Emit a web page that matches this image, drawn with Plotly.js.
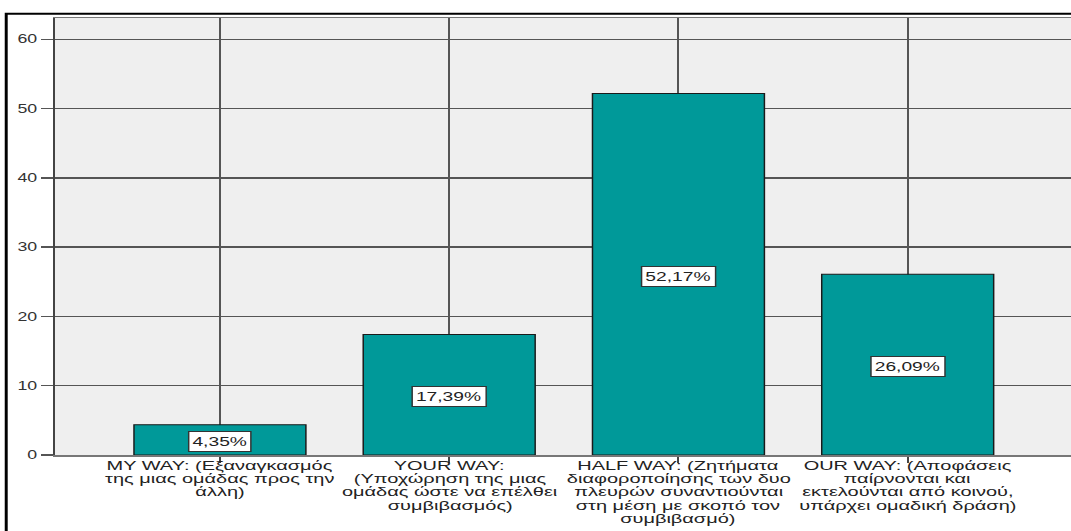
<!DOCTYPE html>
<html>
<head>
<meta charset="utf-8">
<script src="https://cdn.plot.ly/plotly-3.0.1.min.js"></script>
<style>
  html, body { margin: 0; padding: 0; background: #ffffff; overflow: hidden; width: 1071px; height: 531px; }
  /* the chart is laid out narrow and stretched sideways, like the wide SPSS export */
  #chart { width: 726px; height: 531px; transform: scaleX(1.48); transform-origin: 0 0; }
</style>
</head>
<body>
<div id="chart"></div>
<script>
// Conflict-handling styles and the share of responses for each
const categories = ['MY WAY', 'YOUR WAY', 'HALF WAY', 'OUR WAY'];
const percentValues = [4.35, 17.39, 52.17, 26.09];
const categoryLabelLines = [
  ['MY WAY: (Εξαναγκασμός', 'της μιας ομάδας προς την', 'άλλη)'],
  ['YOUR WAY:', '(Υποχώρηση της μιας', 'ομάδας ώστε να επέλθει', 'συμβιβασμός)'],
  ['HALF WAY: (Ζητήματα', 'διαφοροποίησης των δυο', 'πλευρών συναντιούνται', 'στη μέση με σκοπό τον', 'συμβιβασμό)'],
  ['OUR WAY: (Αποφάσεις', 'παίρνονται και', 'εκτελούνται από κοινού,', 'υπάρχει ομαδική δράση)']
];
const yTickValues = [0, 10, 20, 30, 40, 50, 60];

const FONT = 'Liberation Sans, Arial, sans-serif';
const fmtPct = v => v.toFixed(2).replace('.', ',') + '%';

const bars = {
  type: 'bar',
  x: categories,
  y: percentValues,
  width: 0.75,
  marker: { color: '#009999', line: { color: '#1a1a1a', width: 1 } },
  hoverinfo: 'skip'
};

// boxed value labels in the middle of each bar
const valueLabels = categories.map((c, i) => ({
  xref: 'x', yref: 'y', x: c, y: percentValues[i] / 2,
  yshift: -2,
  text: fmtPct(percentValues[i]),
  showarrow: false,
  font: { family: FONT, size: 13, color: '#222222' },
  bgcolor: '#ffffff', bordercolor: '#333333', borderwidth: 1, borderpad: 2
}));

// category captions, one annotation per line for tight line spacing
const LINE_STEP = 13.2;
const captionLines = [];
categories.forEach((c, i) => {
  categoryLabelLines[i].forEach((line, k) => {
    captionLines.push({
      xref: 'x', yref: 'paper', x: c, y: 0,
      xanchor: 'center', yanchor: 'top',
      yshift: -3 - LINE_STEP * k,
      text: line, showarrow: false,
      borderpad: 0, borderwidth: 0,
      font: { family: FONT, size: 13.5, color: '#222222' }
    });
  });
});

const layout = {
  width: 726, height: 531,
  margin: { l: 37, r: 0, t: 18, b: 76, pad: 0 },
  paper_bgcolor: '#ffffff',
  plot_bgcolor: '#efefef',
  showlegend: false,
  bargap: 0.25,
  xaxis: {
    type: 'category',
    range: [-0.7205, 3.7275],
    showticklabels: false,
    ticks: 'outside', ticklen: 6, tickwidth: 1.4, tickcolor: '#444444',
    showgrid: true, gridcolor: '#555555', gridwidth: 1.4,
    showline: true, linecolor: '#777777', linewidth: 1.5, mirror: true,
    zeroline: false, fixedrange: true
  },
  yaxis: {
    range: [0, 63.06],
    tickvals: yTickValues,
    ticktext: yTickValues.map(String),
    ticks: 'outside', ticklen: 8, tickwidth: 1.4, tickcolor: '#555555',
    tickfont: { family: FONT, size: 12, color: '#333333' },
    showgrid: true, gridcolor: '#555555', gridwidth: 1.4,
    showline: true, linecolor: '#444444', linewidth: 1.5,
    zeroline: false, fixedrange: true
  },
  shapes: [{
    // outer chart frame
    type: 'rect', xref: 'paper', yref: 'paper',
    x0: -0.0476, x1: 1.2, y0: -0.5, y1: 1.0096,
    line: { color: '#000000', width: 2 }, fillcolor: 'rgba(0,0,0,0)', layer: 'below'
  }],
  annotations: valueLabels.concat(captionLines)
};

Plotly.newPlot('chart', [bars], layout, { displayModeBar: false, staticPlot: true });
</script>
</body>
</html>
